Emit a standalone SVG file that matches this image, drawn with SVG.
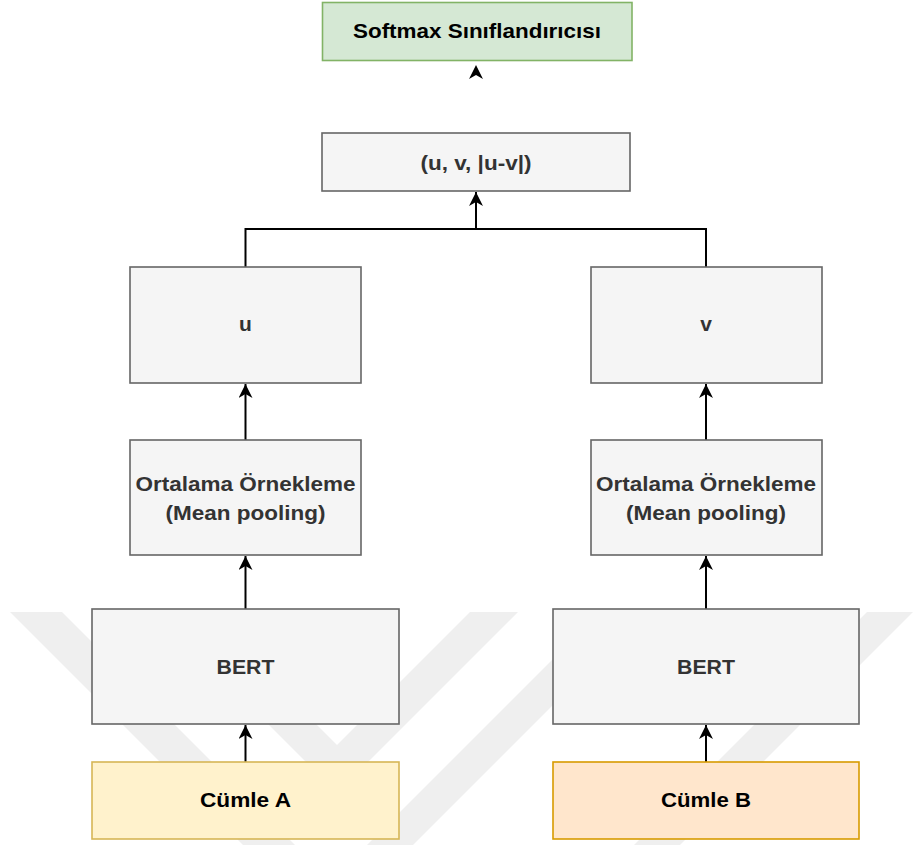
<svg xmlns="http://www.w3.org/2000/svg" width="913" height="845" viewBox="0 0 913 845">
  <style>
    .box { fill: #f5f5f5; stroke: #666666; stroke-width: 1.6; }
    .green { fill: #d5e8d4; stroke: #82b366; stroke-width: 1.6; }
    .yellow { fill: #fff2cc; stroke: #d6b656; stroke-width: 1.6; }
    .orange { fill: #ffe6cc; stroke: #d79b00; stroke-width: 1.6; }
    text { font-family: "Liberation Sans", Arial, Helvetica, sans-serif; font-weight: bold; font-size: 21px; text-anchor: middle; }
    .dark { fill: #333333; }
    .black { fill: #000000; }
    .wire { fill: none; stroke: #000000; stroke-width: 2; }
    .mark { fill: #efefef; }
  </style>
  <defs>
    <marker id="arrow" viewBox="0 0 14 14" refX="14" refY="7" markerWidth="14" markerHeight="14" markerUnits="userSpaceOnUse" orient="auto">
      <path d="M0,0 L14,7 L0,14 L4,7 Z" fill="#000000"/>
    </marker>
  </defs>

  <rect width="913" height="845" fill="#ffffff"/>

  <!-- faint background stripes -->
  <g id="background-stripes">
    <polygon class="mark" points="10,612 62,612 295,845 243,845"/>
    <polygon class="mark" points="156,612 204,612 337,745 470,612 518,612 337,793"/>
    <polygon class="mark" points="600,612 646,612 413,845 367,845"/>
    <polygon class="mark" points="867,612 913,612 680,845 634,845"/>
  </g>

  <!-- connectors -->
  <g id="connectors">
    <line class="wire" x1="245.5" y1="762" x2="245.5" y2="725" marker-end="url(#arrow)"/>
    <line class="wire" x1="245.5" y1="609" x2="245.5" y2="556" marker-end="url(#arrow)"/>
    <line class="wire" x1="245.5" y1="440" x2="245.5" y2="384" marker-end="url(#arrow)"/>
    <line class="wire" x1="706" y1="762" x2="706" y2="725" marker-end="url(#arrow)"/>
    <line class="wire" x1="706" y1="609" x2="706" y2="556" marker-end="url(#arrow)"/>
    <line class="wire" x1="706" y1="440" x2="706" y2="384" marker-end="url(#arrow)"/>
    <path class="wire" d="M245.5,267 V229 H706 V267"/>
    <line class="wire" x1="476" y1="229" x2="476" y2="192" marker-end="url(#arrow)"/>
    <path d="M476,65 L483,79 L476,75 L469,79 Z" fill="#000000"/>
  </g>

  <g id="softmax">
    <rect class="green" x="322.5" y="2.5" width="309.5" height="58"/>
    <text class="black" x="477" y="37.5" textLength="248" lengthAdjust="spacingAndGlyphs">Softmax Sınıflandırıcısı</text>
  </g>

  <g id="concat">
    <rect class="box" x="322" y="133" width="308" height="58"/>
    <text class="dark" x="476" y="170" textLength="111" lengthAdjust="spacingAndGlyphs">(u, v, |u-v|)</text>
  </g>

  <g id="u">
    <rect class="box" x="130" y="267" width="231" height="116"/>
    <text class="dark" x="245.5" y="331">u</text>
  </g>

  <g id="v">
    <rect class="box" x="591" y="267" width="231" height="116"/>
    <text class="dark" x="706" y="331">v</text>
  </g>

  <g id="pooling-a">
    <rect class="box" x="130" y="440" width="231" height="115"/>
    <text class="dark" x="245.5" y="491" textLength="220" lengthAdjust="spacingAndGlyphs">Ortalama Örnekleme</text>
    <text class="dark" x="245.5" y="520" textLength="160" lengthAdjust="spacingAndGlyphs">(Mean pooling)</text>
  </g>

  <g id="pooling-b">
    <rect class="box" x="591" y="440" width="231" height="115"/>
    <text class="dark" x="706" y="491" textLength="220" lengthAdjust="spacingAndGlyphs">Ortalama Örnekleme</text>
    <text class="dark" x="706" y="520" textLength="160" lengthAdjust="spacingAndGlyphs">(Mean pooling)</text>
  </g>

  <g id="bert-a">
    <rect class="box" x="92" y="609" width="307" height="115"/>
    <text class="dark" x="245.5" y="674" textLength="58" lengthAdjust="spacingAndGlyphs">BERT</text>
  </g>

  <g id="bert-b">
    <rect class="box" x="553" y="609" width="306" height="115"/>
    <text class="dark" x="706" y="674" textLength="58" lengthAdjust="spacingAndGlyphs">BERT</text>
  </g>

  <g id="sentence-a">
    <rect class="yellow" x="92" y="762" width="307" height="77"/>
    <text class="black" x="245.5" y="807" textLength="91" lengthAdjust="spacingAndGlyphs">Cümle A</text>
  </g>

  <g id="sentence-b">
    <rect class="orange" x="553" y="762" width="306" height="77"/>
    <text class="black" x="706" y="807" textLength="90" lengthAdjust="spacingAndGlyphs">Cümle B</text>
  </g>
</svg>
